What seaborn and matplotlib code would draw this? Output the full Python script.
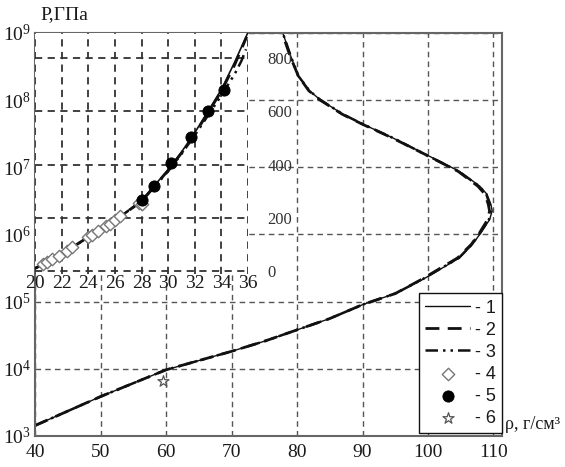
import numpy as np
import pandas as pd
import matplotlib
matplotlib.use('Agg')
import matplotlib.pyplot as plt
import seaborn as sns

sns.set_theme(style="white")
plt.rcParams['font.family'] = ['Liberation Serif', 'DejaVu Serif']
plt.rcParams['mathtext.default'] = 'regular'

# --- main plot: P(rho), log scale ---
rho_1 = [40, 50, 60, 70, 75, 80, 85, 90, 95, 99.2, 104.8, 106.8, 108.1, 109.4, 109.8, 109.6,
         109.0, 107.9, 104.8, 99.7, 94.6, 90.1, 87.0, 83.5, 81.9, 80.2, 79.1, 77.8]
p_1 = [1430, 3860, 9660, 18200, 25700, 38000, 56000, 90200, 132000, 214000, 447000, 710000,
       1.07e6, 1.66e6, 2.24e6, 2.82e6, 3.98e6, 5.25e6, 8.7e6, 1.55e7, 2.75e7, 4.37e7,
       6.17e7, 1.02e8, 1.38e8, 2.29e8, 4.37e8, 1.02e9]

rho_2 = [40, 50, 60, 70, 75, 80, 85, 90, 95, 99.0, 104.5, 106.6, 107.9, 109.1, 109.4, 109.2,
         108.7, 107.6, 104.6, 99.6, 94.5, 90.0, 86.9, 83.4, 81.8, 80.2, 79.0, 77.7]
p_2 = p_1

rho_3 = [40, 50, 60, 70, 75, 80, 85, 90, 95, 99.1, 104.7, 106.7, 108.0, 109.3, 109.6, 109.4,
         108.9, 107.8, 104.7, 99.6, 94.6, 90.1, 87.0, 83.5, 81.9, 80.2, 79.1, 77.8]
p_3 = p_1

star_rho = [59.6]
star_p = [6600]

# --- inset: P(rho), linear scale ---
in_rho_1 = [20, 22, 24, 26, 28, 30, 31, 32, 33, 34, 35, 36]
in_p_1 = [10, 63, 128, 190, 265, 381, 447, 520, 600, 682, 785, 897]

in_rho_2 = [20, 22, 24, 26, 28, 30, 31, 32, 33, 34, 35, 35.9]
in_p_2 = [10, 63, 128, 190, 262, 378, 443, 515, 595, 676, 775, 880]

in_rho_3 = [20, 22, 24, 26, 28, 30, 31, 32, 33, 34, 35, 35.5, 35.85]
in_p_3 = [10, 63, 128, 190, 262, 375, 440, 510, 585, 660, 740, 789, 833]

diam_rho = [20.6, 20.9, 21.3, 21.8, 22.4, 22.8, 24.0, 24.3, 24.7, 25.3, 25.6, 26.0, 26.4, 27.8, 28.0]
diam_p = [26, 34, 45, 58, 76, 89, 128, 137, 150, 169, 178, 190, 205, 257, 250]

dot_rho = [28.0, 28.9, 30.2, 31.7, 33.0, 34.2]
dot_p = [265, 318, 406, 503, 603, 680]

txt = '#1a1a1a'
fig = plt.figure(figsize=(5.65, 4.67), dpi=100)
ax = fig.add_axes([0.062, 0.0664, 0.8265, 0.863])

sns.lineplot(x=rho_1, y=p_1, sort=False, estimator=None, ax=ax, color='#111111', lw=1.0, label='- 1')
sns.lineplot(x=rho_2, y=p_2, sort=False, estimator=None, ax=ax, color='#111111', lw=2.0,
             linestyle=(0, (5, 3)), label='- 2')
sns.lineplot(x=rho_3, y=p_3, sort=False, estimator=None, ax=ax, color='#111111', lw=1.8,
             linestyle=(0, (5, 2, 1, 2, 1, 2)), label='- 3')
ax.set_yscale('log')
ax.set_xlim(40, 111.3)
ax.set_ylim(1e3, 1e9)
ax.set_xticks([40, 50, 60, 70, 80, 90, 100, 110])
ax.set_yticks([1e3, 1e4, 1e5, 1e6, 1e7, 1e8, 1e9])
ax.minorticks_off()
ax.grid(True, ls=(0, (4, 3)), color='#555555', lw=1.0)
ax.tick_params(labelsize=14, colors=txt, direction='in', length=3)
ax.tick_params(axis='x', pad=6)
ax.tick_params(axis='y', pad=3)
for s in ax.spines.values():
    s.set_color('#666666')
    s.set_linewidth(1.5)
ax.set_xlabel('')
ax.set_ylabel('')

# inset
axi = fig.add_axes([0.062, 0.4133, 0.377, 0.516])
axi.set_facecolor('white')
sns.lineplot(x=in_rho_1, y=in_p_1, sort=False, estimator=None, ax=axi, color='#111111', lw=1.2)
sns.lineplot(x=in_rho_2, y=in_p_2, sort=False, estimator=None, ax=axi, color='#111111', lw=2.0,
             linestyle=(0, (5, 3)))
sns.lineplot(x=in_rho_3, y=in_p_3, sort=False, estimator=None, ax=axi, color='#111111', lw=1.8,
             linestyle=(0, (5, 2, 1, 2, 1, 2)))
sns.scatterplot(x=diam_rho, y=diam_p, ax=axi, marker='D', color='white', edgecolor='#777777',
                linewidth=1.0, s=40, zorder=4, label='- 4')
sns.scatterplot(x=dot_rho, y=dot_p, ax=axi, marker='o', color='black', edgecolor='black',
                s=65, zorder=5, label='- 5')
axi.set_xlim(20, 36)
axi.set_ylim(-11, 894)
axi.set_xticks(range(20, 37, 2))
axi.set_yticks([0, 200, 400, 600, 800])
axi.yaxis.tick_right()
axi.grid(True, ls=(0, (4, 3)), color='#333333', lw=1.3)
axi.tick_params(axis='x', labelsize=14, colors=txt, length=0, pad=1)
axi.tick_params(axis='y', labelsize=12, colors='#333333', length=0, pad=14)
for s in axi.spines.values():
    s.set_visible(False)
axi.set_xlabel('')
axi.set_ylabel('')
h_in, l_in = axi.get_legend_handles_labels()
if axi.legend_ is not None:
    axi.legend_.remove()

sns.scatterplot(x=star_rho, y=star_p, ax=ax, marker='*', color='white', edgecolor='#555555',
                linewidth=0.9, s=70, zorder=5, label='- 6')
h_m, l_m = ax.get_legend_handles_labels()
handles = h_m[:3] + h_in + h_m[3:]
labels = l_m[:3] + l_in + l_m[3:]
leg = ax.legend(handles, labels, loc='lower right', bbox_to_anchor=(1.0, 0.007), borderaxespad=0,
                prop={'family': 'Liberation Sans', 'size': 13}, handlelength=2.5, handletextpad=0.25,
                labelspacing=0.28, borderpad=0.35, frameon=True, fancybox=False, framealpha=1,
                edgecolor='#111111')
leg.get_frame().set_linewidth(1.0)
for t in leg.get_texts():
    t.set_color(txt)

fig.text(0.071, 0.968, 'P,ГПа', fontsize=14, color=txt, va='center', ha='left')
fig.text(0.893, 0.09, 'ρ, г/см³', fontsize=13, color=txt, va='center', ha='left')

fig.savefig('out.png', dpi=100)
